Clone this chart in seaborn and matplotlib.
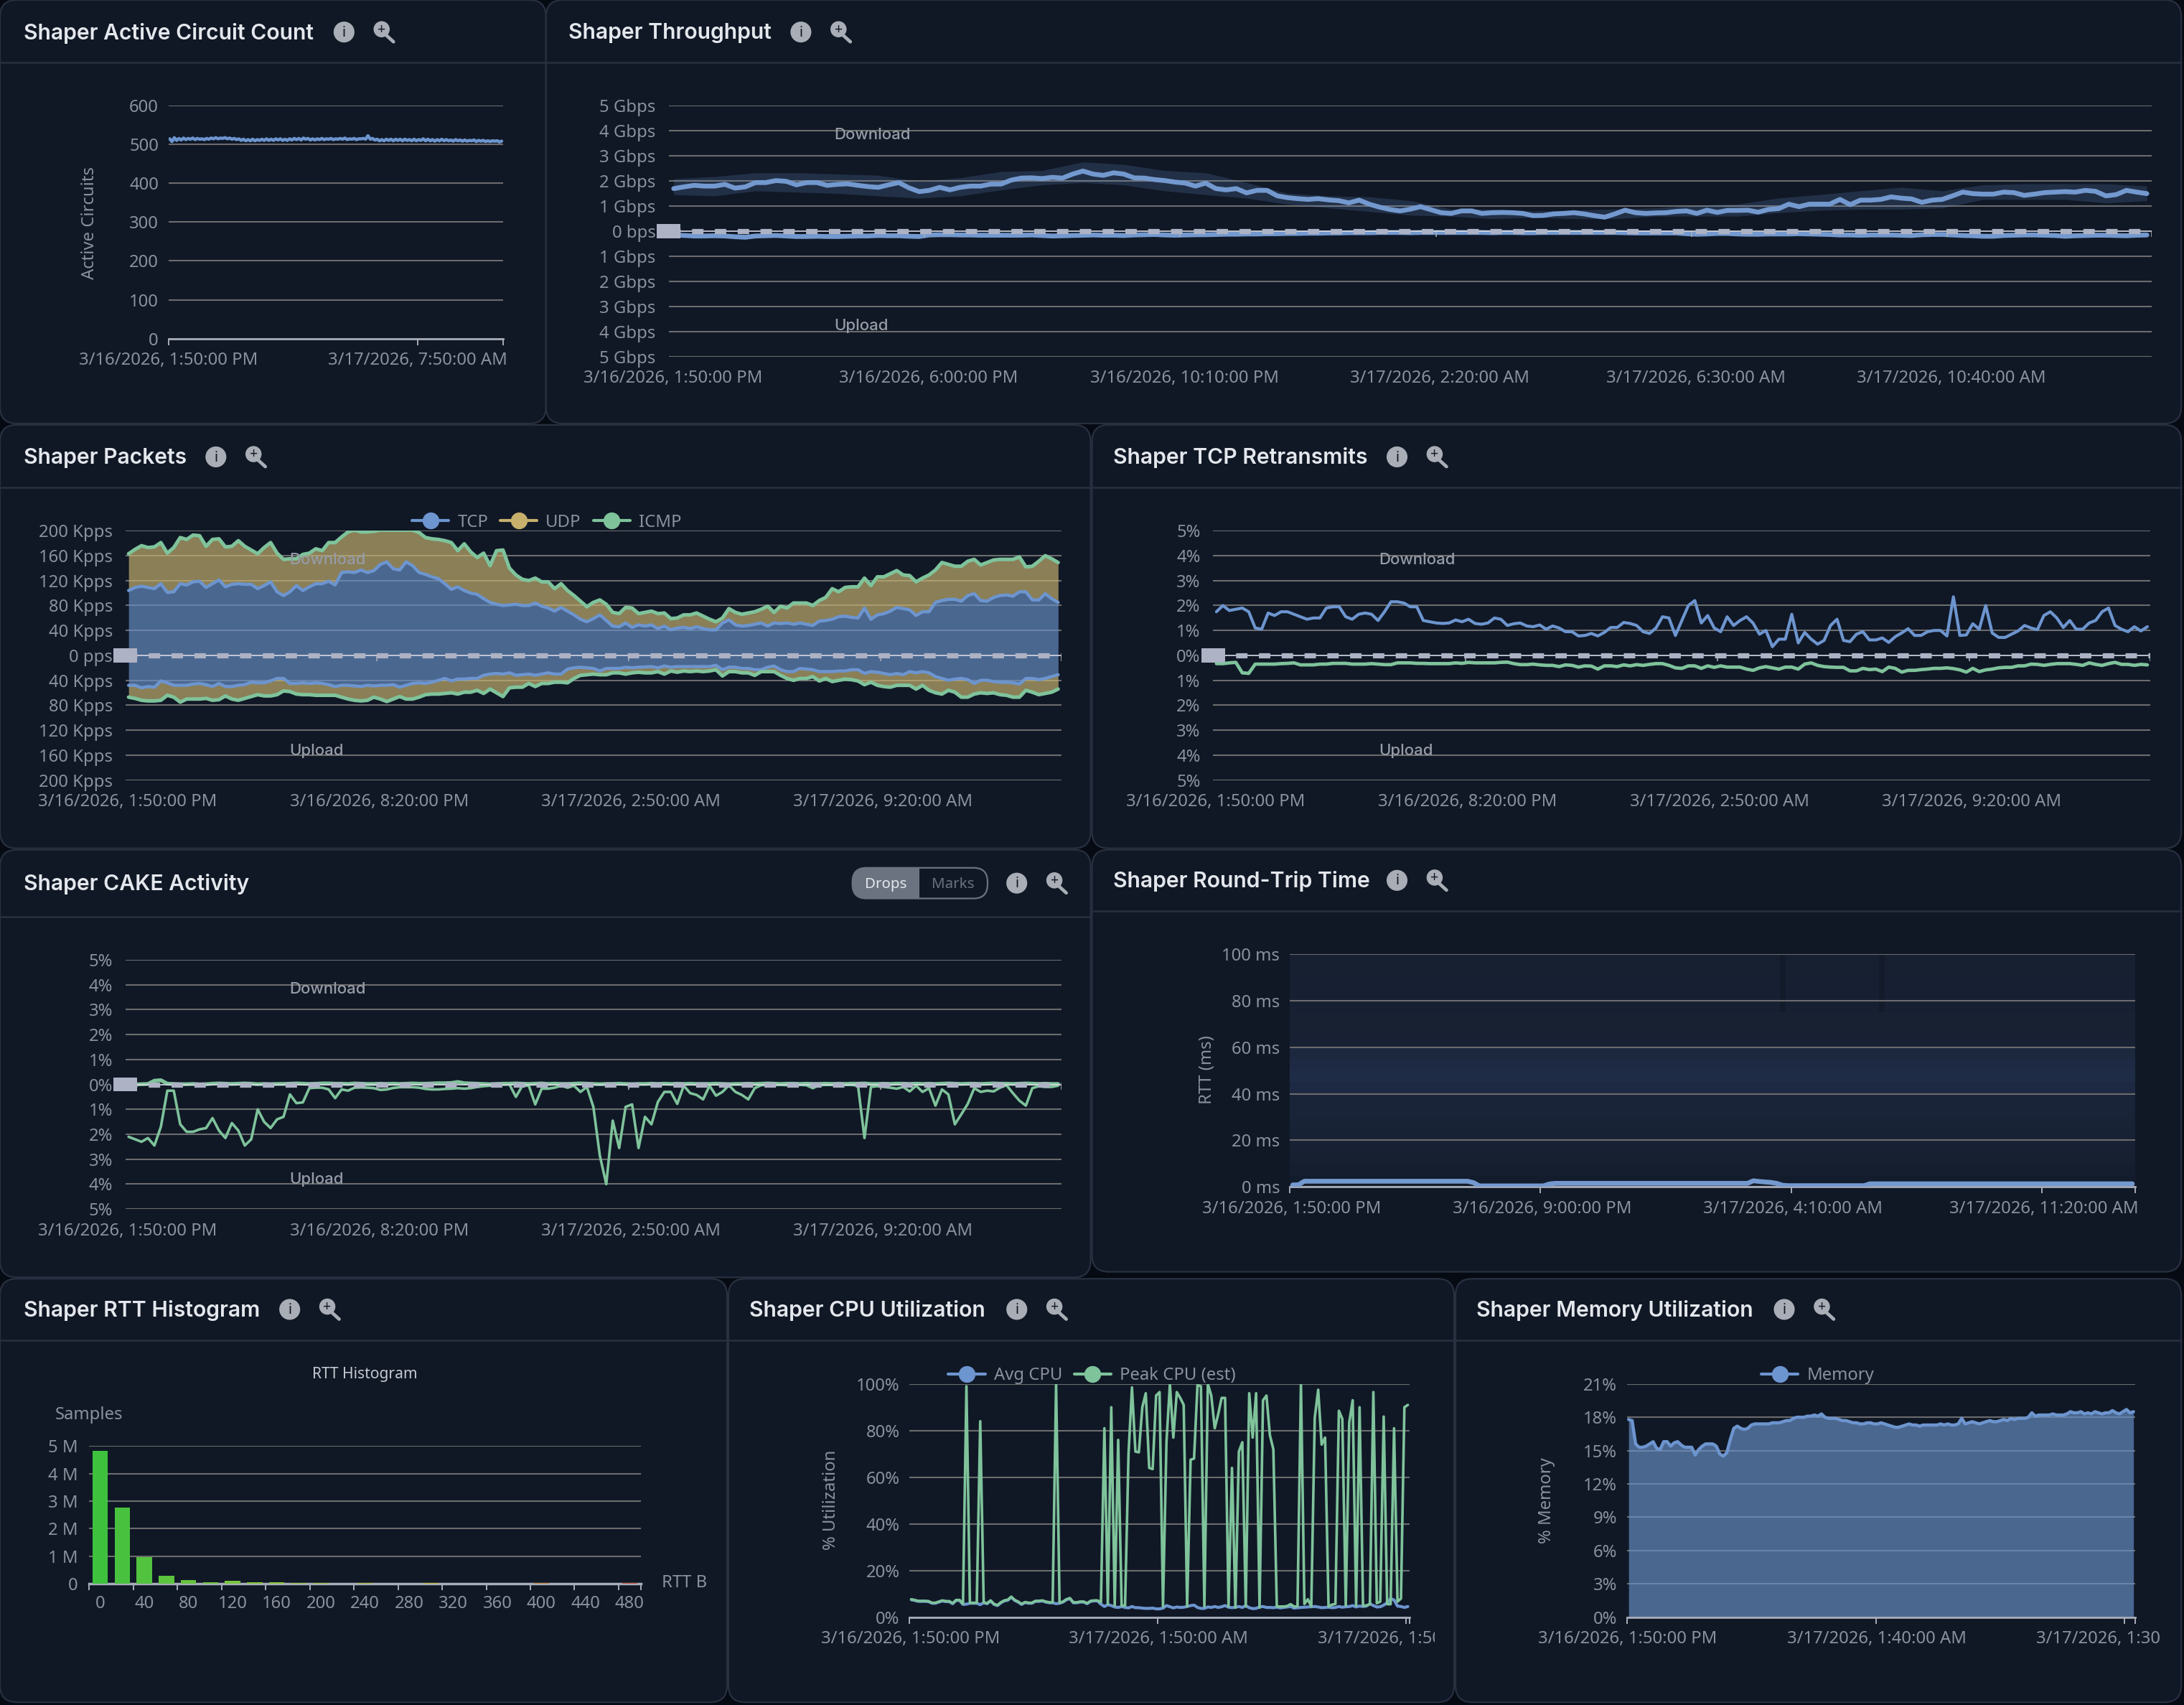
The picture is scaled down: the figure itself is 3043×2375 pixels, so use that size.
# Shaper dashboard - nine panels on a dark page
import numpy as np
import matplotlib
matplotlib.use("Agg")
import matplotlib.pyplot as plt
import seaborn as sns
from matplotlib.colors import LinearSegmentedColormap
from matplotlib.lines import Line2D
from matplotlib.patches import Circle, FancyBboxPatch, Rectangle
from matplotlib.transforms import Bbox, ScaledTranslation, TransformedBbox

# ---- data (10 minute samples) ----
circuits = [515,508,518,511,516,512,517,513,516,514,
            517,513,516,514,515,513,516,514,517,515,
            518,515,517,516,518,515,517,514,516,513,
            515,511,514,510,513,510,514,510,513,511,
            514,511,515,511,514,511,515,512,515,511,
            514,511,515,512,516,513,516,512,517,514,
            516,512,515,512,515,513,516,513,515,514,
            516,513,515,514,516,514,517,513,515,514,
            516,513,515,515,516,514,523,514,516,512,
            514,510,513,510,514,511,514,510,514,511,
            514,510,514,511,513,510,514,510,513,511,
            515,510,514,510,513,509,513,510,514,510,
            513,510,512,509,513,510,512,509,512,509,
            511,510,512,508,511,509,511,508,510,508,
            510,509,510,507,509]

tp_dl = [1.70,1.77,1.83,1.80,1.80,1.87,1.72,1.77,1.94,1.94,
         2.02,1.99,1.85,1.94,1.94,1.83,1.87,1.89,1.83,1.78,
         1.75,1.85,1.94,1.73,1.58,1.63,1.75,1.65,1.75,1.80,
         1.80,1.88,1.88,2.04,2.12,2.13,2.10,2.15,2.12,2.28,
         2.40,2.28,2.23,2.33,2.28,2.13,2.12,2.06,2.02,1.96,
         1.92,1.80,1.92,1.70,1.65,1.70,1.53,1.63,1.63,1.41,
         1.34,1.30,1.27,1.30,1.25,1.22,1.13,1.24,1.08,0.96,
         0.87,0.81,0.88,0.98,0.86,0.74,0.71,0.81,0.81,0.71,
         0.74,0.75,0.74,0.71,0.62,0.63,0.69,0.71,0.74,0.69,
         0.62,0.56,0.69,0.84,0.74,0.71,0.73,0.74,0.79,0.81,
         0.71,0.84,0.75,0.83,0.83,0.84,0.76,0.87,0.90,1.08,
         0.98,1.08,1.08,1.08,1.27,1.06,1.24,1.24,1.27,1.37,
         1.32,1.29,1.15,1.24,1.27,1.41,1.56,1.50,1.48,1.48,
         1.56,1.54,1.43,1.48,1.54,1.56,1.58,1.56,1.63,1.59,
         1.41,1.46,1.63,1.56,1.50]
tp_ul = [0.15,0.17,0.19,0.19,0.18,0.19,0.22,0.24,0.19,0.18,
         0.17,0.19,0.21,0.21,0.20,0.21,0.21,0.20,0.19,0.19,
         0.17,0.18,0.18,0.20,0.21,0.15,0.14,0.14,0.15,0.15,
         0.16,0.16,0.16,0.16,0.16,0.15,0.17,0.19,0.18,0.17,
         0.16,0.15,0.16,0.16,0.17,0.15,0.14,0.13,0.15,0.16,
         0.15,0.14,0.14,0.13,0.12,0.12,0.11,0.11,0.10,0.10,
         0.09,0.09,0.08,0.08,0.07,0.07,0.06,0.06,0.06,0.05,
         0.05,0.05,0.06,0.05,0.05,0.05,0.05,0.05,0.05,0.05,
         0.06,0.05,0.05,0.06,0.06,0.05,0.05,0.05,0.05,0.05,
         0.05,0.05,0.05,0.06,0.07,0.07,0.07,0.07,0.07,0.10,
         0.12,0.11,0.09,0.09,0.11,0.12,0.12,0.11,0.11,0.11,
         0.10,0.11,0.12,0.13,0.15,0.15,0.16,0.15,0.15,0.15,
         0.16,0.17,0.14,0.13,0.13,0.15,0.17,0.18,0.20,0.20,
         0.17,0.16,0.15,0.15,0.16,0.17,0.20,0.18,0.17,0.16,
         0.16,0.17,0.18,0.16,0.15]
# min/max band around download, one sample every 40 minutes
tp_band_cats = list(range(0, 145, 4))
tp_band_hi = [2.09,2.18,2.33,2.33,2.28,2.23,1.99,2.13,2.38,2.42,2.76,2.66,2.42,
              2.33,1.94,1.51,1.41,1.37,1.22,0.88,0.88,0.81,0.84,0.88,0.93,1.03,
              1.08,1.32,1.46,1.61,1.75,1.61,1.85,1.89,1.89,1.89,1.80]
tp_band_lo = [1.46,1.41,1.61,1.56,1.51,1.41,1.32,1.41,1.65,1.85,1.94,1.85,1.61,
              1.46,1.32,1.08,0.93,0.79,0.64,0.60,0.50,0.55,0.50,0.50,0.60,0.60,
              0.60,0.74,0.84,0.88,0.88,0.93,1.27,1.27,1.27,1.13,1.22]

pk_tcp_dl = [104,109,111,109,107,115,101,102,115,113,
             118,119,109,115,121,110,114,115,114,114,
             107,112,118,102,96,102,112,104,110,115,
             115,119,113,133,134,133,137,133,136,146,
             150,139,137,150,144,133,130,126,123,115,
             106,110,104,100,98,91,85,82,80,81,
             82,80,80,84,79,76,71,77,71,65,
             58,54,59,65,56,47,46,52,45,49,
             47,49,43,47,41,44,45,43,46,43,
             41,41,52,57,49,47,48,50,52,47,
             52,51,52,50,52,50,48,55,56,58,
             62,63,61,60,76,58,65,67,71,77,
             75,73,64,70,70,85,88,90,90,87,
             96,99,88,87,93,96,97,95,102,102,
             89,89,99,91,85]
pk_top_dl = [163,170,176,173,174,181,164,173,189,186,
             193,192,175,186,187,174,175,184,175,169,
             163,173,181,164,154,155,155,162,164,171,
             168,181,181,190,198,201,198,198,199,201,
             201,201,201,201,201,197,189,187,186,184,
             181,168,179,166,157,164,144,168,169,140,
             129,122,120,124,118,118,107,115,104,96,
             87,78,85,89,82,69,67,77,76,67,
             69,71,67,68,59,60,65,65,68,63,
             58,54,60,75,69,66,68,70,74,79,
             69,79,76,84,84,84,80,88,93,107,
             102,109,110,110,124,112,126,126,131,136,
             129,128,118,124,129,137,149,146,143,143,
             151,154,145,149,153,154,154,154,158,142,
             143,151,160,155,149]
pk_tcp_ul = [48,48,52,50,51,41,44,48,48,48,
             46,45,47,50,45,50,50,48,47,43,
             44,44,41,37,37,45,45,44,45,44,
             45,47,50,48,48,49,50,48,49,48,
             48,47,51,48,45,44,45,43,40,37,
             41,38,38,37,37,32,30,29,30,28,
             32,31,30,32,30,28,30,30,22,20,
             19,20,21,25,21,21,21,19,20,19,
             18.5,18,20,17,19,18,18,18,18,18,
             18,16,23,19,19,21,21,23,23,19,
             17,23,26,26,21,22,23,26,26,26,
             25,25,23,23,29,26,27,29,31,29,
             31,26,28,26,28,34,37,40,38,37,
             39,45,40,40,42,43,43,44,46,37,
             37,39,37,34,31]
pk_top_ul = [67,69,72,73,73,72,64,67,75,70,
             70,70,69,72,71,65,70,72,69,66,
             63,65,65,63,57,58,62,63,63,64,
             64,64,64,67,70,72,73,72,67,70,
             74,70,66,70,70,67,63,62,62,61,
             60,62,59,59,56,61,54,60,66,52,
             51,51,45,50,45,45,43,43,44,37,
             32,31,30,31,31,28,28,30,28,27,
             28,28,26,30,25,27,25,26,25,26,
             25,23,33,26,26,28,28,32,26,26,
             26,32,37,40,37,37,34,41,37,42,
             40,38,39,41,47,43,48,50,51,48,
             48,48,54,48,56,60,62,56,59,67,
             67,62,60,61,60,63,64,67,67,56,
             59,63,61,59,54]

retx_dl = [1.75,2.0,1.8,1.85,1.9,1.75,1.1,1.05,1.7,1.6,
           1.75,1.75,1.65,1.55,1.45,1.5,1.5,1.9,1.95,1.95,
           1.55,1.45,1.65,1.7,1.65,1.4,1.75,2.15,2.15,2.1,
           1.95,1.95,1.4,1.35,1.3,1.28,1.3,1.42,1.35,1.45,
           1.28,1.25,1.3,1.5,1.45,1.2,1.27,1.3,1.18,1.15,
           1.22,1.05,1.18,1.1,0.95,0.95,0.78,0.8,0.88,0.78,
           0.92,1.12,1.12,1.32,1.28,1.2,0.95,0.88,1.1,1.55,
           1.5,0.8,1.4,2.0,2.2,1.3,1.6,1.1,0.95,1.55,
           1.2,1.4,1.55,1.3,0.85,1.0,0.35,0.65,0.65,1.65,
           0.5,0.92,0.65,0.45,0.6,1.2,1.45,0.6,0.55,0.85,
           0.95,0.62,0.62,0.7,0.52,0.75,0.9,1.07,0.8,0.8,
           0.95,1.0,1.0,0.78,2.35,0.8,0.82,1.27,1.05,2.0,
           0.9,0.72,0.72,0.85,0.98,1.2,1.1,1.03,1.6,1.75,
           1.5,1.12,1.4,1.05,1.05,1.3,1.4,1.75,1.9,1.2,
           1.05,0.95,1.15,0.98,1.15]
retx_ul = [0.33,0.33,0.3,0.28,0.7,0.72,0.35,0.35,0.35,0.35,
           0.33,0.32,0.3,0.38,0.38,0.38,0.35,0.35,0.32,0.32,
           0.32,0.35,0.35,0.35,0.33,0.35,0.37,0.37,0.3,0.3,
           0.3,0.32,0.32,0.33,0.33,0.33,0.33,0.3,0.32,0.28,
           0.3,0.3,0.3,0.3,0.28,0.27,0.33,0.37,0.37,0.35,
           0.38,0.4,0.4,0.45,0.38,0.4,0.47,0.42,0.43,0.55,
           0.42,0.42,0.45,0.38,0.42,0.37,0.4,0.36,0.33,0.33,
           0.4,0.5,0.52,0.42,0.42,0.52,0.42,0.48,0.42,0.47,
           0.47,0.47,0.55,0.6,0.5,0.45,0.5,0.55,0.47,0.47,
           0.55,0.35,0.3,0.4,0.45,0.47,0.48,0.48,0.62,0.62,
           0.52,0.57,0.55,0.65,0.47,0.52,0.67,0.6,0.6,0.57,
           0.55,0.52,0.52,0.5,0.53,0.58,0.67,0.52,0.65,0.58,
           0.55,0.5,0.48,0.48,0.42,0.42,0.35,0.36,0.4,0.36,
           0.33,0.33,0.33,0.36,0.4,0.3,0.36,0.4,0.33,0.28,
           0.36,0.36,0.4,0.36,0.38]

cake_ul = [2.1,2.2,2.3,2.15,2.45,1.7,0.25,0.25,1.6,1.9,
           1.9,1.8,1.75,1.35,1.85,2.15,1.55,1.85,2.45,2.2,
           1.0,1.5,1.75,1.4,1.3,0.4,0.75,0.72,0.15,0.13,
           0.13,0.2,0.55,0.2,0.25,0.13,0.12,0.13,0.15,0.22,
           0.2,0.14,0.11,0.11,0.11,0.13,0.18,0.2,0.2,0.18,
           0.17,0.15,0.17,0.15,0.1,0.07,0.05,0.03,0.01,0.0,
           0.5,0.05,0.05,0.8,0.17,0.17,0.13,0.05,0.13,0.05,
           0.3,0.1,0.9,2.85,4.0,1.45,2.55,0.9,0.8,2.55,
           1.3,1.6,0.7,0.3,0.3,0.78,0.05,0.35,0.42,0.6,
           0.05,0.45,0.3,0.03,0.3,0.42,0.6,0.15,0.03,0.02,
           0.02,0.02,0.03,0.02,0.02,0.03,0.15,0.03,0.02,0.02,
           0.02,0.02,0.02,0.05,2.15,0.1,0.07,0.1,0.13,0.17,
           0.1,0.28,0.05,0.3,0.15,0.85,0.2,0.4,1.6,1.2,
           0.78,0.15,0.3,0.25,0.28,0.13,0.03,0.35,0.65,0.85,
           0.15,0.07,0.1,0.1,0.05]
cake_dl = [0.0,0.0,0.01,0.02,0.15,0.17,0.03,0.02,0.01,0.01,
           0.02,0.0,0.01,0.03,0.04,0.03,0.02,0.03,0.04,0.03,
           0.01,0.02,0.01,0.02,0.02,0.03,0.04,0.03,0.02,0.03,
           0.04,0.04,0.03,0.03,0.02,0.04,0.03,0.02,0.02,0.03,
           0.02,0.03,0.02,0.03,0.04,0.03,0.03,0.04,0.05,0.05,
           0.06,0.1,0.05,0.04,0.03,0.02,0.01,0.02,0.03,0.03,
           0.04,0.03,0.02,0.03,0.04,0.02,0.03,0.02,0.02,0.03,
           0.04,0.03,0.02,0.01,0.02,0.02,0.03,0.02,0.01,0.02,
           0.02,0.03,0.02,0.03,0.02,0.03,0.02,0.03,0.02,0.02,
           0.02,0.03,0.02,0.01,0.02,0.02,0.03,0.02,0.03,0.04,
           0.03,0.02,0.03,0.03,0.02,0.03,0.02,0.02,0.03,0.02,
           0.03,0.02,0.03,0.03,0.04,0.02,0.02,0.03,0.02,0.03,
           0.03,0.02,0.03,0.02,0.03,0.02,0.03,0.04,0.03,0.02,
           0.03,0.03,0.02,0.03,0.04,0.03,0.03,0.02,0.03,0.04,
           0.03,0.02,0.03,0.02,0.02]

rtt_line = [0.8,0.9] + [2.4]*29 + [1.8] + [0.4]*12 + [1.2] + [1.5]*34 + \
           [2.6,2.3,2.1,1.9,1.5,0.7] + [0.5]*14 + [1.3]*46
# heat map background, rows of 5 ms from 100 ms down to 0 ms
rtt_band = [0.42,0.42,0.44,0.46,0.46,0.48,0.48,0.50,0.80,0.92,
            0.98,0.88,0.65,0.62,0.58,0.55,0.50,0.42,0.30,0.20]
rtt_nick_cats = [84, 101]

hist_bins = [str(b) for b in range(0, 500, 20)]
hist_samples = [4.83,2.77,0.97,0.30,0.14,0.06,0.10,0.06,0.05,0.03,0.03,0.01,
                0.03,0.01,0.005,0.02,0.003,0.002,0.002,0.003,0.02,0.002,0.001,
                0.002,0.02]

cpu_peak = [7.7,7.4,7,7,7,6.9,6.2,6.2,6.7,7.2,
            6.9,6.9,6,7.4,7.4,5.7,99,6.2,6.2,6.2,
            84,6.4,6,7.2,5.7,5.2,6.4,7.2,7.5,8.8,
            7.4,6.7,5.7,6.5,6.2,6.2,7,7,7.2,6.7,
            6.4,6.4,100,6.2,6.7,7.7,8.2,6.4,6.4,6.7,
            6.7,6,7,7.2,7.2,6.4,81,5.7,90,5,
            76,5,5,70,98.5,71,70.7,90,96,64,
            63.5,95,96.5,4.6,75,100,77,96.5,94,91,
            4.6,67.5,68,99.5,99,4.6,100,95,81,87,
            94,94,4.6,64,4.1,71,75,4.6,96,77,
            96,4.1,93,95,78,72,4.6,4.6,4.6,4.8,
            5.6,4.6,4.6,100,5.7,7.7,4.6,85.5,97.5,74,
            77,4.6,5.4,5.7,88.5,85,5,83.5,93,5,
            90,5,5,5.6,96.5,6,6.7,86,5.6,5.6,
            81,6.7,8,90,91]
cpu_avg = [7.5,7.2,6.8,6.8,6.8,6.7,6,6,6.5,7,
           6.7,6.7,5.8,7.2,7.2,5.5,5.6,6,6,6,
           5.4,6.2,5.8,7,5.5,5,6.2,7,7.3,8.6,
           7.2,6.5,5.5,6.3,6,6,6.8,6.8,7,6.5,
           6.2,6.2,5.8,6,6.5,7.5,8,6.2,6.2,6.5,
           6.5,5.8,6.8,7,7,5.6,4.6,5.4,5,4.4,
           4.2,4.6,4.2,4,4.6,4.1,4.1,3.9,3.8,3.8,
           3.9,3.6,3.6,3.9,5,4.5,4,4.4,4.2,4.3,
           4.6,5,5.2,4.2,3.8,3.8,4.4,4.2,4.6,4.2,
           4.5,5,4.3,4.1,4.3,4.6,4.2,5,4.1,3.7,
           3.8,4.4,4.6,4.2,4.2,4.1,4.3,4,4.2,4.4,
           4.6,3.9,4.1,4.2,4.3,4.4,4.5,4.6,4.4,4.1,
           4.2,4.3,4.1,4.2,4.6,4.3,4.5,4.6,5,4.4,
           4.8,4.6,4.8,5.8,5,4.4,4.5,5.2,6.2,8,
           7.4,4.8,4.6,4.2,4.6]

memory = [17.8,17.7,15.6,15.3,15.3,15.4,15.6,15.8,15.2,15.1,
          15.8,15.8,15.4,15.7,15.8,15.5,15.3,15.3,15.3,14.6,
          15.1,15.4,15.6,15.6,15.6,15.4,14.7,14.5,14.8,16.0,
          17.0,17.2,17.0,16.9,17.0,17.3,17.4,17.4,17.4,17.4,
          17.4,17.5,17.5,17.5,17.6,17.7,17.7,17.9,18.0,18.0,
          18.0,18.1,18.1,18.2,18.1,18.3,18.0,17.9,17.9,17.9,
          17.8,17.7,17.7,17.6,17.5,17.5,17.4,17.4,17.5,17.5,
          17.4,17.4,17.5,17.4,17.3,17.2,17.1,17.1,17.2,17.3,
          17.4,17.3,17.3,17.2,17.3,17.3,17.3,17.3,17.3,17.4,
          17.3,17.4,17.3,17.3,17.4,17.9,17.4,17.5,17.6,17.5,
          17.4,17.5,17.6,17.7,17.6,17.6,17.7,17.8,17.7,17.9,
          17.8,17.9,17.9,17.9,18.0,18.4,18.1,18.2,18.2,18.2,
          18.2,18.3,18.2,18.2,18.2,18.3,18.5,18.4,18.4,18.5,
          18.3,18.4,18.3,18.5,18.4,18.3,18.4,18.4,18.6,18.4,
          18.3,18.5,18.7,18.4,18.5]

PAGE = "#060a13"
PANEL = "#101826"
EDGE = "#283040"
GRID = "#6c6c6c"
AXIS = "#a8adb8"
TXT = "#8b919c"
BLUE = "#6d95cf"
GREEN = "#7fc39b"
GOLD = "#c6b06c"
MARK = "#adb2c4"

W, H = 1568.0, 1224.0  # layout numbers are in these units

sns.set_theme(style="dark", rc={"axes.facecolor": "none", "figure.facecolor": PAGE,
                                "savefig.facecolor": PAGE, "axes.grid": False})
plt.rcParams["font.family"] = ["Noto Sans", "DejaVu Sans"]

fig = plt.figure(figsize=(15.215, 11.875), dpi=200)
bg = fig.add_axes([0, 0, 1, 1], zorder=-5)
bg.set_xlim(0, W)
bg.set_ylim(H, 0)
bg.axis("off")


def fx(x):
    return x / W


def fy(y):
    return 1 - y / H


def panel(x0, y0, x1, y1, head, title, title_x, ty, ix):
    bg.add_patch(FancyBboxPatch((x0 + 12, y0 + 12), x1 - x0 - 24, y1 - y0 - 24,
                                boxstyle="round,pad=12,rounding_size=12",
                                fc=PANEL, ec=EDGE, lw=0.8))
    bg.plot([x0, x1], [head, head], color=EDGE, lw=0.9)
    bg.text(title_x, ty + 0.8, title, color="#e4e7ec", fontsize=10.85, family="Inter",
            weight="semibold", va="center", ha="left")
    # info icon
    bg.add_patch(Circle((ix, ty), 7.5, fc="#a9adb5", ec="none"))
    bg.text(ix, ty + 0.6, "i", color=PANEL, fontsize=7, weight="bold", ha="center", va="center")
    # zoom icon
    zx = ix + 28
    bg.add_patch(Circle((zx - 1, ty - 2), 5.8, fc="#a9adb5", ec="none"))
    bg.plot([zx + 2, zx + 7.5], [ty + 2, ty + 7], color="#a9adb5", lw=1.7)
    bg.text(zx - 1, ty - 1.6, "+", color=PANEL, fontsize=7, weight="bold", ha="center", va="center")


def new_ax(x0, y0, x1, y1):
    return fig.add_axes([fx(x0), fy(y1), (x1 - x0) / W, (y1 - y0) / H])


def style(ax, ylim, yticks, ylabels, cats, labels, diverging=False, pad=6.6):
    ax.set_xlim(-0.5, 144.5)
    ax.set_ylim(*ylim)
    ax.set_xlabel("")
    ax.set_ylabel("")
    ax.set_yticks(yticks, labels=ylabels)
    bounds = [c - 0.5 for c in cats] + [144.5]
    ax.set_xticks(bounds, labels=[""] * len(bounds))
    ax.set_xticks(cats, labels=labels, minor=True)
    ax.tick_params(axis="y", length=0, pad=6.4 if diverging else 5, labelsize=8.6, labelcolor=TXT)
    ax.tick_params(axis="x", which="minor", bottom=False, length=0, pad=pad, labelsize=8.6, labelcolor=TXT)
    ax.tick_params(axis="x", which="major", bottom=not diverging, color=AXIS, width=0.7, length=3.4)
    # labels sit a hair left of the band centre
    nudge = ScaledTranslation(-0.7 * 3043 / W / 200, 0, fig.dpi_scale_trans)
    for lab in ax.get_xticklabels(minor=True):
        lab.set_transform(lab.get_transform() + nudge)
    ax.grid(False)
    ax.grid(axis="y", color=GRID, lw=0.75)
    ax.set_axisbelow(True)
    for side in ("top", "right", "left"):
        ax.spines[side].set_visible(False)
    if diverging:
        ax.spines["bottom"].set_visible(False)
        ax.get_ygridlines()[len(yticks) // 2].set_visible(False)
        drop = (ylim[1] - ylim[0]) * 4.0 / ax.get_position().height / H
        ax.vlines(bounds, -drop, 0, color=AXIS, lw=0.6, zorder=6)
        ax.axhline(0, color="#d8dae2", lw=0.6, zorder=6)
        ax.axhline(0, color=MARK, lw=2.6, ls=(0, (2.2, 2.2)), zorder=7)
        # grey square where the zero line starts
        p = ax.get_position()
        zero_y = p.y0 + p.height * (0 - ylim[0]) / (ylim[1] - ylim[0])
        fig.add_artist(Rectangle((p.x0 - 8.5 / W, zero_y - 5 / H), 17 / W, 10 / H,
                                 transform=fig.transFigure, fc=MARK, ec="none", zorder=8))
    else:
        ax.spines["bottom"].set_color(AXIS)
        ax.spines["bottom"].set_linewidth(1.0)


def line(ax, y, color, lw=1.4, x=None, z=4):
    xs = np.arange(len(y)) if x is None else x
    sns.lineplot(x=xs, y=y, ax=ax, color=color, linewidth=lw, estimator=None,
                 errorbar=None, legend=False, zorder=z)


def legend(ax, names, colors, cx, cy, ncol):
    handles = [Line2D([], [], color=c, lw=1.5, marker="o", ms=7.4) for c in colors]
    ax.legend(handles, names, loc="center", bbox_to_anchor=(fx(cx), fy(cy)),
              bbox_transform=fig.transFigure, frameon=False, ncol=ncol, fontsize=8.6,
              labelcolor=TXT, handlelength=2.15, handletextpad=0.5, columnspacing=0.7,
              borderpad=0, borderaxespad=0)


def clip_label(lab, x1):
    lab.set_clip_on(True)
    lab.set_clip_box(TransformedBbox(Bbox([[0, 0], [fx(x1), 1]]), fig.transFigure))


def note(x, y, s):
    fig.text(fx(x), fy(y + 1), s, color="#969ba5", fontsize=8, weight="medium",
             ha="left", va="center", family="Inter", zorder=9)


def ylab(x, y, s):
    fig.text(fx(x + 1.5), fy(y), s, color=TXT, fontsize=8.6, rotation=90, ha="center", va="center")


panel(0, 0, 392, 304, 45, "Shaper Active Circuit Count", 17, 23, 247)
panel(392, 0, 1566, 304, 45, "Shaper Throughput", 408, 23, 575)
panel(0, 305, 783, 609, 350, "Shaper Packets", 17, 328, 155)
panel(784, 305, 1566, 609, 350, "Shaper TCP Retransmits", 799, 328, 1003)
panel(0, 610, 783, 917, 658, "Shaper CAKE Activity", 17, 634, 730)
panel(784, 610, 1566, 913, 654, "Shaper Round-Trip Time", 799, 632, 1003)
panel(0, 918, 522, 1222, 962, "Shaper RTT Histogram", 17, 940, 208)
panel(523, 918, 1044, 1222, 962, "Shaper CPU Utilization", 538, 940, 730)
panel(1045, 918, 1566, 1222, 962, "Shaper Memory Utilization", 1060, 940, 1281)

# Drops / Marks toggle
bg.add_patch(FancyBboxPatch((622, 633), 77, 2, boxstyle="round,pad=10,rounding_size=10",
                            fc="none", ec="#6b7280", lw=0.8))
pill = FancyBboxPatch((622, 633), 77, 2, boxstyle="round,pad=10,rounding_size=10",
                      fc="#6b7280", ec="none")
bg.add_patch(pill)
pill.set_clip_path(Rectangle((600, 620), 60, 30, transform=bg.transData))
bg.text(636, 635, "Drops", color="#e4e7ec", fontsize=7.4, ha="center", va="center")
bg.text(684, 635, "Marks", color="#6b7280", fontsize=7.4, ha="center", va="center")

# active circuits
ax = new_ax(121, 76, 361, 243)
line(ax, circuits, BLUE, 1.6)
style(ax, (0, 600), range(0, 700, 100), [str(v) for v in range(0, 700, 100)],
      [0, 108], ["3/16/2026, 1:50:00 PM", "3/17/2026, 7:50:00 AM"])
ylab(63, 160, "Active Circuits")

# throughput
gbps = [5, 4, 3, 2, 1, 0, -1, -2, -3, -4, -5]
ax = new_ax(480, 76, 1545, 256)
ax.fill_between(tp_band_cats, tp_band_lo, tp_band_hi, color=BLUE, alpha=0.2, lw=0, zorder=3)
line(ax, tp_dl, "#7399cf", 2.4)
line(ax, [-v for v in tp_ul], "#7399cf", 2.4)
style(ax, (-5, 5), gbps, [("0 bps" if v == 0 else f"{abs(v)} Gbps") for v in gbps],
      [0, 25, 50, 75, 100, 125],
      ["3/16/2026, 1:50:00 PM", "3/16/2026, 6:00:00 PM", "3/16/2026, 10:10:00 PM",
       "3/17/2026, 2:20:00 AM", "3/17/2026, 6:30:00 AM", "3/17/2026, 10:40:00 AM"], True)
note(599, 96, "Download")
note(599, 233, "Upload")

# packets
kpps = [200, 160, 120, 80, 40, 0, -40, -80, -120, -160, -200]
kpps_labels = [("0 pps" if v == 0 else f"{abs(v)} Kpps") for v in kpps]
cats3 = [0, 39, 78, 117]
labels3 = ["3/16/2026, 1:50:00 PM", "3/16/2026, 8:20:00 PM",
           "3/17/2026, 2:50:00 AM", "3/17/2026, 9:20:00 AM"]
pct = [5, 4, 3, 2, 1, 0, -1, -2, -3, -4, -5]
pct_labels = [f"{abs(v)}%" for v in pct]
ax = new_ax(90, 381, 762, 560)
xs = np.arange(145)
tcp_ul_neg = [-v for v in pk_tcp_ul]
top_ul_neg = [-v for v in pk_top_ul]
ax.fill_between(xs, 0, pk_tcp_dl, color="#6a92ca", alpha=0.65, lw=0, zorder=2)
ax.fill_between(xs, pk_tcp_dl, pk_top_dl, color="#ccb772", alpha=0.65, lw=0, zorder=2)
ax.fill_between(xs, 0, tcp_ul_neg, color="#6a92ca", alpha=0.65, lw=0, zorder=2)
ax.fill_between(xs, tcp_ul_neg, top_ul_neg, color="#ccb772", alpha=0.65, lw=0, zorder=2)
line(ax, pk_tcp_dl, BLUE, 1.6)
line(ax, tcp_ul_neg, BLUE, 1.6)
line(ax, pk_top_dl, GREEN, 1.8, z=5)
line(ax, top_ul_neg, GREEN, 1.8, z=5)
style(ax, (-200, 200), kpps, kpps_labels, cats3, labels3, True)
legend(ax, ["TCP", "UDP", "ICMP"], [BLUE, GOLD, GREEN], 392.5, 375, 3)
note(208, 401, "Download")
note(208, 538, "Upload")

# retransmits
ax = new_ax(871, 381, 1544, 560)
line(ax, retx_dl, BLUE, 1.5)
line(ax, [-v for v in retx_ul], GREEN, 1.7)
style(ax, (-5, 5), pct, pct_labels, cats3, labels3, True)
note(990, 401, "Download")
note(990, 538, "Upload")

# CAKE
ax = new_ax(90, 689, 762, 868)
line(ax, [-v for v in cake_ul], GREEN, 1.3)
line(ax, cake_dl, GREEN, 1.9)
style(ax, (-5, 5), pct, pct_labels, cats3, labels3, True)
note(208, 709, "Download")
note(208, 846, "Upload")

# round trip time, heat map under the line
heat = np.tile(np.array(rtt_band)[:, None], (1, 145))
heat[:5, rtt_nick_cats] = 0.15
heat_bg = new_ax(926, 685, 1533, 852)
cmap = LinearSegmentedColormap.from_list("rtt", ["#111927", "#172133", "#1f2c46"])
sns.heatmap(heat, ax=heat_bg, cbar=False, cmap=cmap, vmin=0, vmax=1,
            xticklabels=False, yticklabels=False)
ax = new_ax(926, 685, 1533, 852)
line(ax, rtt_line, "#7399cf", 2.4)
rtt_ticks = [0, 20, 40, 60, 80, 100]
style(ax, (0, 100), rtt_ticks, [f"{v} ms" for v in rtt_ticks], [0, 43, 86, 129],
      ["3/16/2026, 1:50:00 PM", "3/16/2026, 9:00:00 PM",
       "3/17/2026, 4:10:00 AM", "3/17/2026, 11:20:00 AM"])
ylab(865, 768, "RTT (ms)")

# histogram
ax = new_ax(64, 1038, 460, 1137)
palette = sns.blend_palette(["#3ec23e", "#8fc63f", "#c9b83a", "#c9503a"], len(hist_bins))
sns.barplot(x=hist_bins, y=hist_samples, hue=hist_bins, palette=palette, legend=False,
            width=0.7, saturation=1, ax=ax, zorder=3, edgecolor="none", linewidth=0)
ax.set_xlim(-0.5, 24.5)
ax.set_ylim(0, 5)
ax.set_yticks(range(6), labels=["0", "1 M", "2 M", "3 M", "4 M", "5 M"])
hist_cats = list(range(0, 25, 2))
ax.set_xticks([c - 0.5 for c in hist_cats] + [24.5], labels=[""] * 14)
ax.set_xticks(hist_cats, labels=[hist_bins[c] for c in hist_cats], minor=True)
ax.tick_params(axis="y", length=0, pad=5.5, labelsize=8.6, labelcolor=TXT)
ax.tick_params(axis="x", which="minor", bottom=False, length=0, pad=5.6, labelsize=8.6, labelcolor=TXT)
ax.tick_params(axis="x", which="major", bottom=True, color=AXIS, width=0.7, length=3.4)
ax.grid(axis="y", color=GRID, lw=0.75)
ax.set_axisbelow(True)
for side in ("top", "right", "left"):
    ax.spines[side].set_visible(False)
ax.spines["bottom"].set_color(AXIS)
bg.text(262, 986.5, "RTT Histogram", color="#c4c8cf", fontsize=7.6, weight="bold", ha="center", va="center")
bg.text(64, 1016, "Samples", color=TXT, fontsize=8.6, ha="center", va="center")
fig.text(fx(475), fy(1136.5), "RTT Bucket", color=TXT, fontsize=8.6, ha="left", va="center",
         clip_on=True, clip_box=TransformedBbox(Bbox([[0, 0], [fx(508), 1]]), fig.transFigure))

# CPU
ax = new_ax(653, 993.5, 1012, 1161)
line(ax, cpu_avg, BLUE, 1.5)
line(ax, cpu_peak, GREEN, 1.3, z=5)
cpu_ticks = [0, 20, 40, 60, 80, 100]
style(ax, (0, 100), cpu_ticks, [f"{v}%" for v in cpu_ticks], [0, 72, 144],
      ["3/16/2026, 1:50:00 PM", "3/17/2026, 1:50:00 AM", "3/17/2026, 1:50:00 PM"])
clip_label(ax.get_xticklabels(minor=True)[-1], 1030)
legend(ax, ["Avg CPU", "Peak CPU (est)"], [BLUE, GREEN], 784, 987.5, 2)
ylab(595, 1077, "% Utilization")

# memory
ax = new_ax(1168, 993.5, 1533, 1161)
ax.fill_between(np.arange(145), 0, memory, color="#6a92ca", alpha=0.65, lw=0, zorder=2)
line(ax, memory, BLUE, 1.6)
mem_ticks = list(range(0, 24, 3))
style(ax, (0, 21), mem_ticks, [f"{v}%" for v in mem_ticks], [0, 71, 142],
      ["3/16/2026, 1:50:00 PM", "3/17/2026, 1:40:00 AM", "3/17/2026, 1:30:00 PM"])
clip_label(ax.get_xticklabels(minor=True)[-1], 1551)
legend(ax, ["Memory"], [BLUE], 1305, 987.5, 1)
ylab(1109, 1077, "% Memory")

fig.savefig("out.png", dpi=200)
